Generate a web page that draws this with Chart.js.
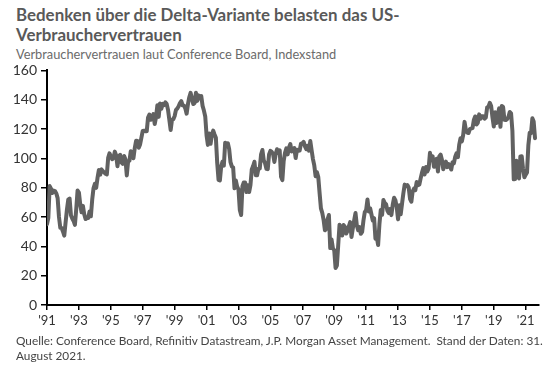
<!DOCTYPE html>
<html>
<head>
<meta charset="utf-8">
<script src="https://cdn.jsdelivr.net/npm/chart.js@4.4.1/dist/chart.umd.min.js"></script>
<style>
  html, body { margin: 0; padding: 0; background: #fff; }
  body { width: 560px; height: 374px; position: relative; overflow: hidden;
         font-family: Lato, "Open Sans", sans-serif; }
  #titel { position: absolute; left: 16px; top: 5px; font-size: 16.9px; font-weight: bold;
           color: #595959; line-height: 20px; white-space: nowrap; }
  #untertitel { position: absolute; left: 16px; top: 46px; font-size: 12.8px; color: #6b6b6b;
                white-space: nowrap; }
  #quelle { position: absolute; left: 16px; top: 333px; font-size: 11.8px; color: #444;
            line-height: 15px; white-space: nowrap; }
  #wrap { position: absolute; left: 0; top: 58px; width: 560px; height: 279px; }
</style>
</head>
<body>
<div id="titel">Bedenken über die Delta-Variante belasten das US-<br>Verbrauchervertrauen</div>
<div id="untertitel">Verbrauchervertrauen laut Conference Board, Indexstand</div>
<div id="wrap"><canvas id="konsumChart"></canvas></div>
<div id="quelle">Quelle: Conference Board, Refinitiv Datastream, J.P. Morgan Asset Management.&nbsp; Stand der Daten: 31.<br>August 2021.</div>

<script>
    // Monatswerte Conference Board Consumer Confidence, ab Jan 1991
    const startJahr = 1991;

    const werte1990er = [
        55.1, 59.4, 81.1, 79.4, 76.4, 78.0, 77.7, 76.1, 72.9, 60.1, 52.7, 52.5,   // 1991
        50.2, 47.3, 56.5, 65.1, 71.9, 72.6, 61.2, 59.0, 57.3, 54.6, 65.6, 78.1,   // 1992
        76.7, 68.5, 63.2, 67.6, 61.9, 58.6, 59.2, 59.3, 63.8, 60.5, 71.9, 79.8,   // 1993
        82.6, 79.9, 86.7, 92.1, 88.9, 92.5, 91.3, 90.4, 89.5, 89.1, 100.4, 103.4, // 1994
        101.4, 99.4, 100.2, 104.6, 102.0, 94.6, 101.4, 102.4, 97.3, 96.3, 101.6, 99.2, // 1995
        88.4, 98.0, 98.4, 104.8, 103.5, 100.1, 107.0, 112.0, 111.8, 107.3, 109.5, 114.2, // 1996
        118.7, 118.9, 118.5, 118.5, 127.9, 129.9, 126.3, 127.6, 130.2, 123.4, 128.1, 136.2, // 1997
        128.3, 137.4, 133.8, 137.2, 136.3, 138.2, 137.2, 133.1, 126.4, 119.3, 126.4, 126.7, // 1998
        128.9, 133.1, 134.0, 135.5, 137.7, 139.0, 136.2, 136.0, 134.2, 130.5, 137.0, 141.7  // 1999
    ];

    const werte2000er = [
        144.7, 140.8, 137.1, 137.7, 144.7, 139.2, 143.0, 140.8, 142.5, 135.8, 132.6, 128.6, // 2000
        115.7, 109.2, 116.9, 109.9, 116.1, 118.9, 116.3, 114.0, 97.0, 85.3, 84.9, 94.6,   // 2001
        97.8, 95.0, 110.7, 108.5, 110.3, 106.3, 97.4, 94.5, 93.7, 79.6, 84.9, 80.7,       // 2002
        78.8, 64.8, 61.4, 81.0, 83.6, 83.5, 77.0, 81.7, 77.0, 81.7, 92.5, 94.8,           // 2003
        97.7, 88.5, 88.5, 93.0, 93.1, 102.8, 105.7, 98.7, 96.7, 92.9, 92.6, 102.7,        // 2004
        105.1, 104.4, 103.0, 97.5, 103.1, 106.2, 103.6, 105.5, 87.5, 85.2, 98.3, 103.8,   // 2005
        106.8, 102.7, 107.5, 109.8, 104.7, 105.4, 107.0, 100.2, 105.9, 105.1, 105.3, 110.0, // 2006
        110.2, 111.2, 108.2, 106.3, 108.5, 105.3, 111.9, 105.6, 99.5, 95.2, 87.8, 90.6,   // 2007
        87.3, 76.4, 65.9, 62.8, 58.1, 51.0, 51.9, 58.5, 61.4, 38.8, 44.7, 38.6,           // 2008
        37.4, 25.3, 26.9, 40.8, 54.8, 49.3, 47.4, 54.5, 53.4, 48.7, 50.6, 53.6            // 2009
    ];

    const werte2010er = [
        56.5, 46.4, 52.3, 57.7, 62.7, 54.3, 51.0, 53.2, 48.6, 49.9, 57.8, 63.4,   // 2010
        64.8, 72.0, 63.8, 66.0, 61.7, 57.6, 59.2, 45.2, 46.4, 40.9, 55.2, 64.8,   // 2011
        61.5, 71.6, 69.5, 68.7, 64.4, 62.7, 65.4, 61.3, 68.4, 73.1, 71.5, 66.7,   // 2012
        58.4, 68.0, 61.9, 69.0, 76.2, 82.1, 81.0, 81.8, 80.2, 72.4, 70.4, 77.5,   // 2013
        79.4, 78.3, 83.9, 81.7, 82.2, 86.4, 90.3, 93.4, 89.0, 94.1, 91.0, 93.1,   // 2014
        103.8, 98.8, 101.4, 94.3, 94.6, 99.8, 91.0, 101.3, 102.6, 99.1, 92.6, 96.3, // 2015
        97.8, 94.0, 96.1, 94.7, 92.4, 97.4, 96.7, 101.1, 103.5, 100.8, 109.4, 113.7, // 2016
        111.6, 116.1, 124.9, 119.4, 117.6, 117.3, 120.0, 120.4, 120.6, 126.2, 128.6, 123.1, // 2017
        124.3, 130.0, 127.0, 128.7, 128.8, 127.1, 127.9, 134.7, 135.3, 137.9, 135.7, 128.1, // 2018
        121.7, 131.4, 124.2, 129.2, 134.1, 121.5, 135.7, 135.1, 126.3, 126.1, 126.8, 128.2  // 2019
    ];

    const werte2020er = [
        131.6, 130.7, 118.8, 85.7, 85.9, 98.3, 91.7, 86.3, 101.3, 101.4, 92.9, 87.1, // 2020
        88.9, 90.4, 109.0, 117.5, 117.2, 127.3, 125.1, 113.8                         // 2021 bis Aug
    ];

    const yTicks = [0, 20, 40, 60, 80, 100, 120, 140, 160];
    const xTickLabels = ["'91", "'93", "'95", "'97", "'99", "'01", "'03", "'05",
                         "'07", "'09", "'11", "'13", "'15", "'17", "'19", "'21"];

    const alleWerte = [...werte1990er, ...werte2000er, ...werte2010er, ...werte2020er];
    // x = Monate seit Jan 1991
    const punkte = alleWerte.map((v, i) => ({ x: i, y: v }));

    const schrift = "Lato, 'Open Sans', sans-serif";

    const ctx = document.getElementById('konsumChart').getContext('2d');
    new Chart(ctx, {
        type: 'line',
        data: {
            datasets: [{
                label: 'Verbrauchervertrauen',
                data: punkte,
                borderColor: '#616161',
                borderWidth: 4,
                borderJoinStyle: 'round',
                borderCapStyle: 'round',
                pointRadius: 0,
                tension: 0,
                fill: false
            }]
        },
        options: {
            responsive: true,
            maintainAspectRatio: false,
            animation: false,
            layout: { padding: { top: 10, right: 21, left: 0, bottom: 0 } },
            plugins: {
                legend: { display: false },
                tooltip: { enabled: false }
            },
            scales: {
                x: {
                    type: 'linear',
                    min: 0,
                    max: 370,
                    afterBuildTicks: (axis) => {
                        axis.ticks = xTickLabels.map((t, i) => ({ value: i * 24 }));
                    },
                    afterFit: (axis) => { axis.height = 32; },
                    ticks: {
                        autoSkip: false,
                        maxRotation: 0,
                        padding: 3,
                        color: '#333',
                        font: { family: schrift, size: 13 },
                        callback: (v, i) => xTickLabels[i]
                    },
                    grid: { drawOnChartArea: false, drawTicks: true, tickLength: 5, color: '#000', lineWidth: 1.5 },
                    border: { color: '#000', width: 2 }
                },
                y: {
                    min: 0,
                    max: 160,
                    afterBuildTicks: (axis) => {
                        axis.ticks = yTicks.map(v => ({ value: v }));
                    },
                    afterFit: (axis) => { axis.width = 47; },
                    ticks: {
                        padding: 4,
                        color: '#333',
                        font: { family: schrift, size: 14 }
                    },
                    grid: { drawOnChartArea: false, drawTicks: true, tickLength: 6, color: '#000', lineWidth: 1.5 },
                    border: { color: '#000', width: 2 }
                }
            }
        }
    });
</script>
</body>
</html>
